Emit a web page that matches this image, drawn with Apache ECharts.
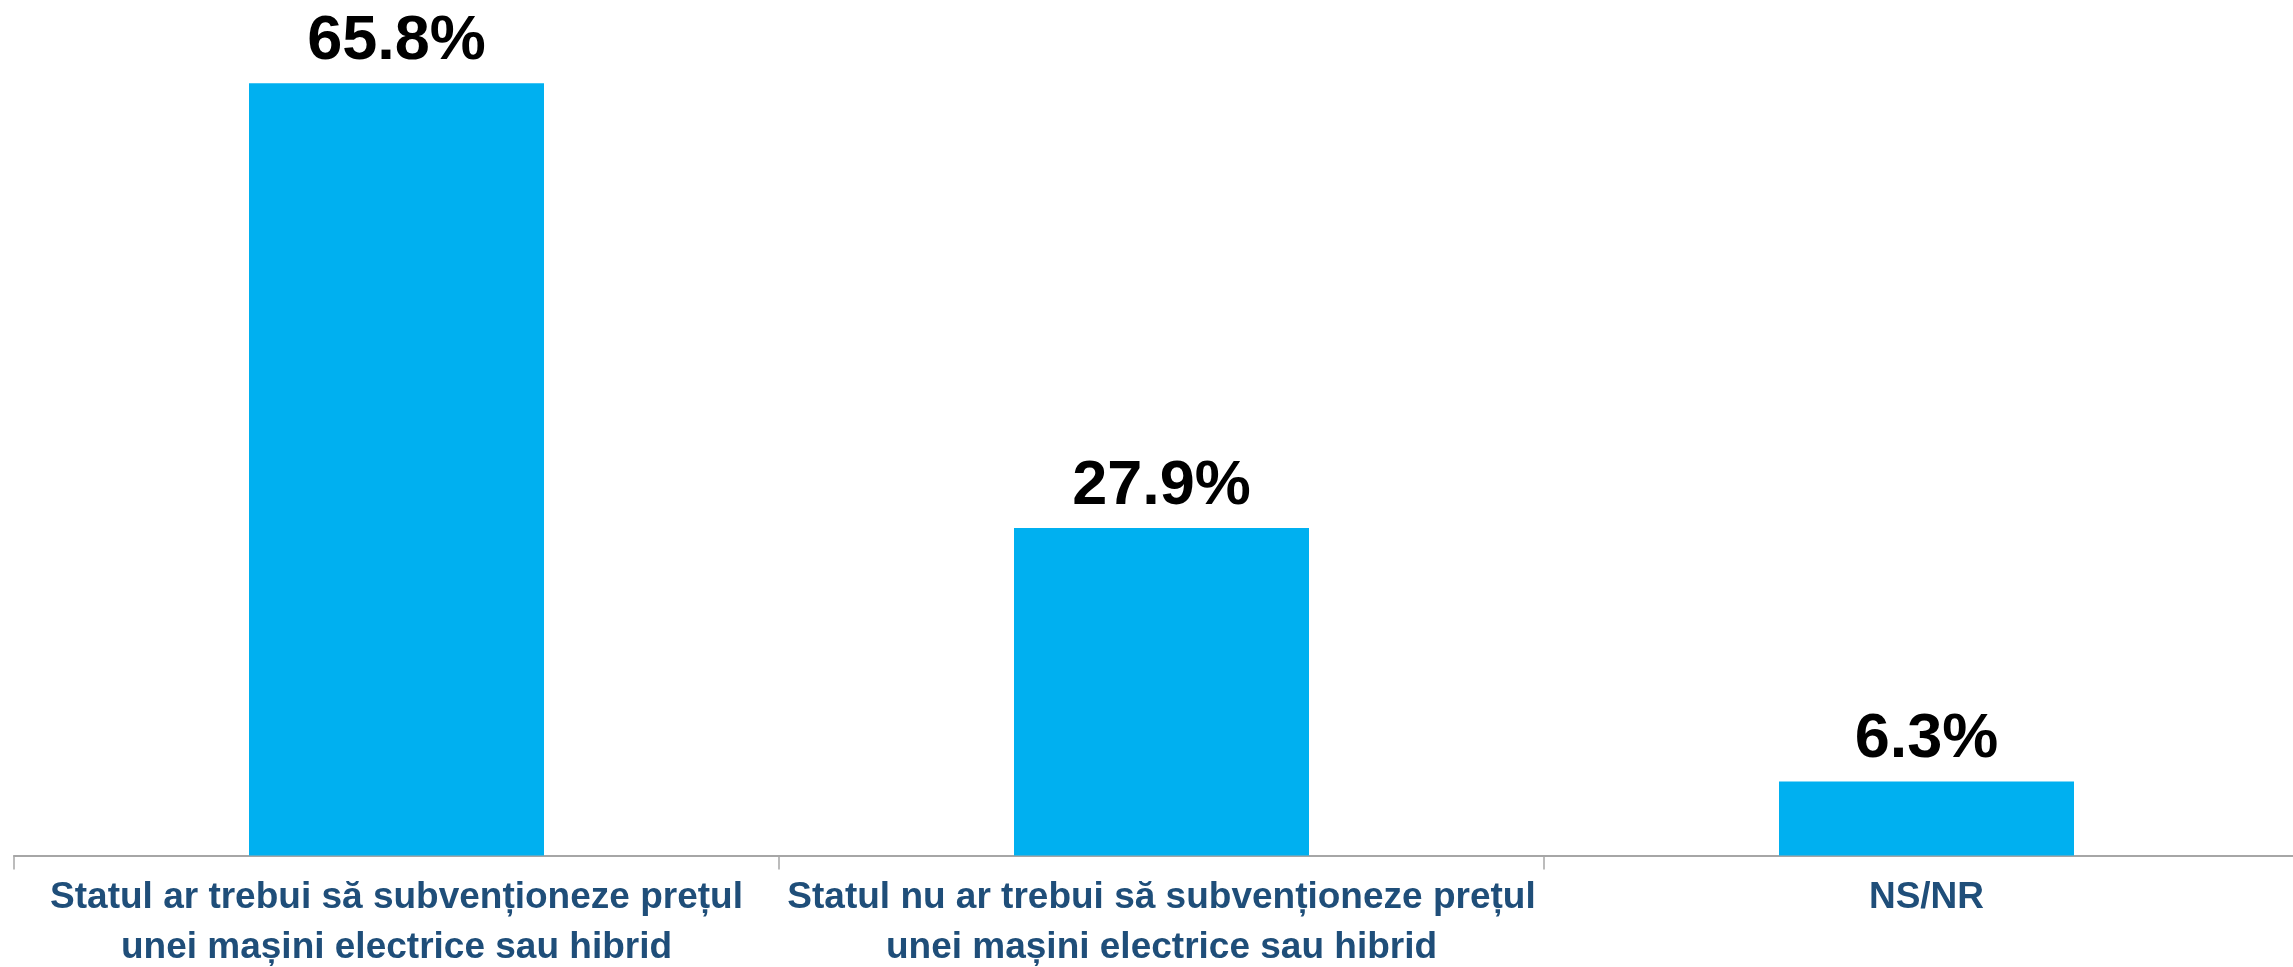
<!DOCTYPE html>
<html><head><meta charset="utf-8">
<style>html,body{margin:0;padding:0;background:#fff}#c{width:2293px;height:967px}</style>
<script src="https://cdn.jsdelivr.net/npm/echarts@6/dist/echarts.min.js"></script>
</head><body><div id="c"></div>
<script>
const categories = [
  "Statul ar trebui să subvenționeze prețul\nunei mașini electrice sau hibrid",
  "Statul nu ar trebui să subvenționeze prețul\nunei mașini electrice sau hibrid",
  "NS/NR"
];
const values = [65.8, 27.9, 6.3];

const chart = echarts.init(document.getElementById('c'));
chart.setOption({
  animation: false,
  grid: {left: 14, right: -16, top: 34, bottom: 111.5, containLabel: false, outerBoundsMode: 'none'},
  xAxis: {
    type: 'category',
    data: categories,
    axisLine: {lineStyle: {color: '#A6A6A6', width: 2}},
    axisTick: {show: true, length: 14, lineStyle: {color: '#A6A6A6', width: 1.5}},
    axisLabel: {
      interval: 0,
      margin: 17,
      color: '#1F4E79',
      fontFamily: '"Liberation Sans", Arial, sans-serif',
      fontWeight: 'bold',
      fontSize: 37,
      lineHeight: 50,
      align: 'center'
    }
  },
  yAxis: {type: 'value', min: 0, max: 70, show: false, splitLine: {show: false}},
  series: [{
    type: 'bar',
    data: values,
    barWidth: 295,
    itemStyle: {color: '#00B0F0'},
    label: {
      show: true,
      position: 'top',
      distance: 10,
      formatter: p => p.value.toFixed(1) + '%',
      color: '#000',
      fontFamily: '"Liberation Sans", Arial, sans-serif',
      fontWeight: 'bold',
      fontSize: 63
    }
  }]
});
</script></body></html>
